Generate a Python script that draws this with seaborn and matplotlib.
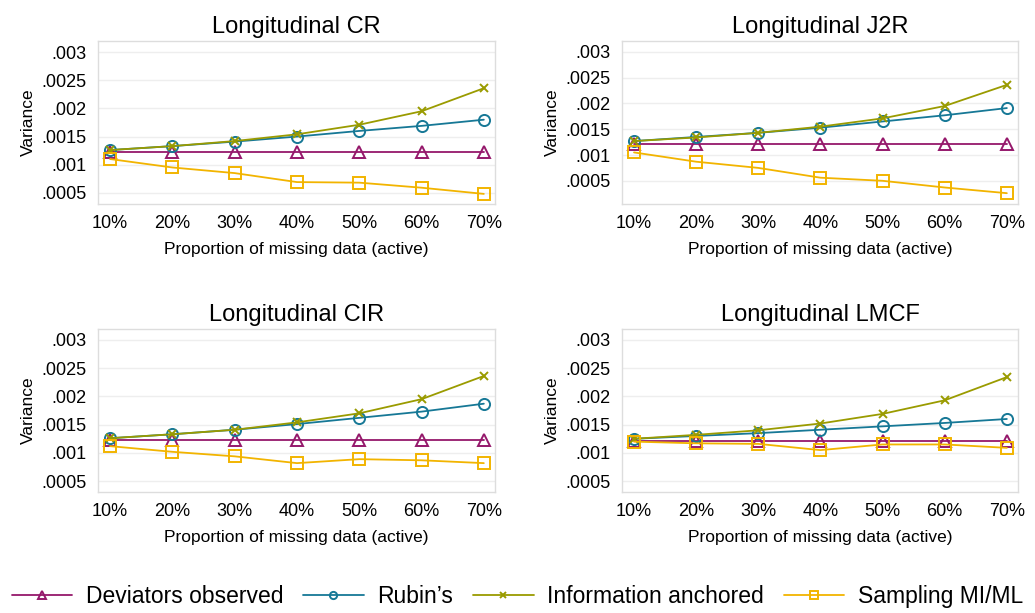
import numpy as np
import pandas as pd
import matplotlib
matplotlib.use("Agg")
import matplotlib.pyplot as plt
import seaborn as sns

sns.set_style("white")
plt.rcParams['font.family'] = ['Liberation Sans', 'DejaVu Sans']
plt.rcParams['text.color'] = 'black'
plt.rcParams['axes.labelcolor'] = 'black'
plt.rcParams['xtick.labelcolor'] = 'black'
plt.rcParams['ytick.labelcolor'] = 'black'

# x values: proportion of missing data (%)
missing_pct = [10, 20, 30, 40, 50, 60, 70]
x_labels = ["10%", "20%", "30%", "40%", "50%", "60%", "70%"]

panel_titles = ["Longitudinal CR", "Longitudinal J2R", "Longitudinal CIR", "Longitudinal LMCF"]
series_names = ["Deviators observed", "Rubin\u2019s", "Information anchored", "Sampling MI/ML"]

# values, one list per series per panel
cr_deviators = [0.00122, 0.00122, 0.00122, 0.00122, 0.00122, 0.00122, 0.00122]
cr_rubins = [0.00126, 0.00133, 0.00141, 0.00150, 0.00160, 0.00169, 0.00180]
cr_info = [0.00126, 0.00133, 0.00142, 0.00154, 0.00171, 0.00195, 0.00236]
cr_sampling = [0.00110, 0.00095, 0.00085, 0.00069, 0.00068, 0.00059, 0.00048]

j2r_deviators = [0.00122, 0.00122, 0.00122, 0.00122, 0.00122, 0.00122, 0.00122]
j2r_rubins = [0.00127, 0.00135, 0.00143, 0.00153, 0.00165, 0.00177, 0.00191]
j2r_info = [0.00127, 0.00134, 0.00143, 0.00155, 0.00171, 0.00195, 0.00236]
j2r_sampling = [0.00105, 0.00087, 0.00075, 0.00056, 0.00050, 0.00037, 0.00026]

cir_deviators = [0.00122, 0.00122, 0.00122, 0.00122, 0.00122, 0.00122, 0.00122]
cir_rubins = [0.00126, 0.00133, 0.00141, 0.00151, 0.00162, 0.00173, 0.00187]
cir_info = [0.00126, 0.00133, 0.00141, 0.00154, 0.00170, 0.00195, 0.00236]
cir_sampling = [0.00112, 0.00102, 0.00094, 0.00082, 0.00089, 0.00087, 0.00082]

lmcf_deviators = [0.00121, 0.00121, 0.00121, 0.00121, 0.00121, 0.00121, 0.00121]
lmcf_rubins = [0.00125, 0.00130, 0.00135, 0.00141, 0.00147, 0.00153, 0.00160]
lmcf_info = [0.00125, 0.00132, 0.00140, 0.00152, 0.00169, 0.00193, 0.00234]
lmcf_sampling = [0.00120, 0.00117, 0.00116, 0.00105, 0.00115, 0.00115, 0.00109]

panels = [
    [cr_deviators, cr_rubins, cr_info, cr_sampling],
    [j2r_deviators, j2r_rubins, j2r_info, j2r_sampling],
    [cir_deviators, cir_rubins, cir_info, cir_sampling],
    [lmcf_deviators, lmcf_rubins, lmcf_info, lmcf_sampling],
]

y_limits = [(0.00030, 0.00320), (0.00005, 0.00321), (0.00031, 0.00319), (0.00031, 0.00319)]
y_ticks = [0.0005, 0.001, 0.0015, 0.002, 0.0025, 0.003]
y_tick_labels = [".0005", ".001", ".0015", ".002", ".0025", ".003"]

colors = ["#95186b", "#167896", "#9a9b00", "#f2b400"]
markers = ["^", "o", "x", "s"]

fig = plt.figure(figsize=(10.35, 6.13), dpi=100)
positions = [
    [0.0947, 0.6672, 0.3836, 0.2659],
    [0.6010, 0.6672, 0.3826, 0.2659],
    [0.0947, 0.1974, 0.3836, 0.2659],
    [0.6010, 0.1974, 0.3826, 0.2659],
]

axes = []
for idx, (title, series) in enumerate(zip(panel_titles, panels)):
    ax = fig.add_axes(positions[idx])
    axes.append(ax)
    for name, vals, col, mk in zip(series_names, series, colors, markers):
        df = pd.DataFrame({"x": missing_pct, "y": vals})
        sns.lineplot(data=df, x="x", y="y", ax=ax, color=col, marker=mk,
                     markersize=8 if mk != "x" else 6,
                     markerfacecolor="none", markeredgecolor=col,
                     markeredgewidth=1.4, linewidth=1.3, label=name, legend=False)
    ax.set_xlim(8.07, 71.8)
    ax.set_ylim(*y_limits[idx])
    ax.set_xticks(missing_pct)
    ax.set_xticklabels(x_labels, fontsize=13)
    ax.set_yticks(y_ticks)
    ax.set_yticklabels(y_tick_labels, fontsize=13)
    ax.set_title(title, fontsize=17, pad=6)
    ax.set_xlabel("Proportion of missing data (active)", fontsize=12.5, labelpad=7)
    ax.set_ylabel("Variance", fontsize=12.5, labelpad=4)
    ax.grid(axis="y", color="#eeeeee", linewidth=1)
    ax.set_axisbelow(True)
    for sp in ax.spines.values():
        sp.set_color("#dddddd")
        sp.set_linewidth(1)
    ax.tick_params(axis="both", length=4, color="#cccccc", width=1, pad=4)

handles, labels = axes[0].get_legend_handles_labels()
fig.legend(handles, labels, loc="lower center", ncol=4, frameon=False,
           fontsize=16.5, handlelength=2.65, columnspacing=0.85, handletextpad=0.6,
           markerscale=0.65, bbox_to_anchor=(0.5, -0.025))

fig.savefig("out.png", dpi=100)
